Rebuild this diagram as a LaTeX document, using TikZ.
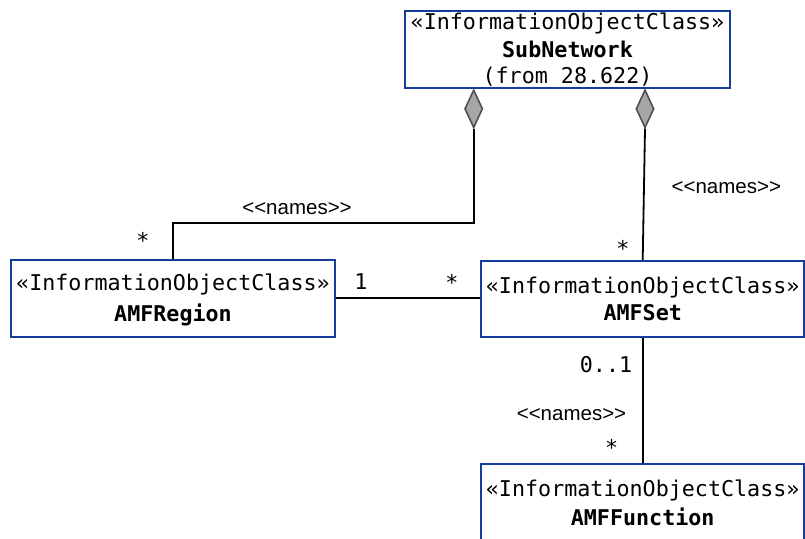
\documentclass[tikz,border=0pt]{standalone}
\usepackage{fontspec}
\usetikzlibrary{shapes.geometric}
\newfontfamily\monof{DejaVu Sans Mono}
\newfontfamily\labf{Liberation Sans}
\definecolor{boxblue}{RGB}{20,60,155}
\definecolor{dmdfill}{RGB}{166,166,166}
\definecolor{dmdline}{RGB}{80,80,80}
\tikzset{
  classbox/.style={draw=boxblue, line width=1.8pt, rectangle, inner sep=0pt},
  monotxt/.style={anchor=base, inner sep=0pt, font=\monof\fontsize{21.7}{26}\selectfont},
  boldtxt/.style={anchor=base, inner sep=0pt, font=\monof\bfseries\fontsize{21.7}{26}\selectfont},
  lbltxt/.style={anchor=base, inner sep=0pt, font=\labf\fontsize{20.5}{24}\selectfont},
  aggr/.style={diamond, draw=dmdline, fill=dmdfill, line width=1.6pt, minimum width=18pt, minimum height=38pt, inner sep=0pt},
  conn/.style={draw=black, line width=1.8pt}
}
\begin{document}
\begin{tikzpicture}[x=1pt,y=-1pt]
\useasboundingbox (0,0) rectangle (805,538);
% class boxes
\node[classbox, minimum width=325pt, minimum height=76.7pt] (sub) at (567.5,49.3) {};
\node[classbox, minimum width=324pt, minimum height=76.7pt] (reg) at (173,298.3) {};
\node[classbox, minimum width=323.3pt, minimum height=76.3pt] (set) at (642.7,299.2) {};
\node[classbox, minimum width=323.3pt, minimum height=77pt] (fun) at (642.7,502.5) {};
% texts in boxes
\node[monotxt] (subst) at (567.5,29.3) {«InformationObjectClass»};
\node[boldtxt] (subnm) at (567.5,57.3) {SubNetwork};
\node[monotxt] (subfr) at (567.5,83.5) {(from 28.622)};
\node[monotxt] (regst) at (173,290) {«InformationObjectClass»};
\node[boldtxt] (regnm) at (173,321.7) {AMFRegion};
\node[monotxt] (setst) at (642.7,293.3) {«InformationObjectClass»};
\node[boldtxt] (setnm) at (642.7,320.7) {AMFSet};
\node[monotxt] (funst) at (642.7,496) {«InformationObjectClass»};
\node[boldtxt] (funnm) at (642.7,525) {AMFFunction};
% aggregation diamonds
\node[aggr] (dl) at (473.7,108.8) {};
\node[aggr] (dr) at (645,108.8) {};
\coordinate (bend) at (473.7,222.7);
% connectors
\draw[conn] (dl.south) -- (bend) -| (reg.north);
\draw[conn] (dr.south) -- (set.north);
\draw[conn] (reg.east) -- (reg.east -| set.west);
\draw[conn] (set.south) -- (fun.north);
% labels
\node[lbltxt] (n1) at (297,214) {<<names>>};
\node[lbltxt] (n2) at (726.3,193) {<<names>>};
\node[lbltxt] (n3) at (571.5,420) {<<names>>};
\node[monotxt] (m1) at (143,248.5) {*};
\node[monotxt] (m2) at (623,256) {*};
\node[monotxt] (m3) at (361,289) {1};
\node[monotxt] (m4) at (452,290) {*};
\node[monotxt] (m5) at (606,372.7) {0..1};
\node[monotxt] (m6) at (611.7,455) {*};
\end{tikzpicture}
\end{document}
